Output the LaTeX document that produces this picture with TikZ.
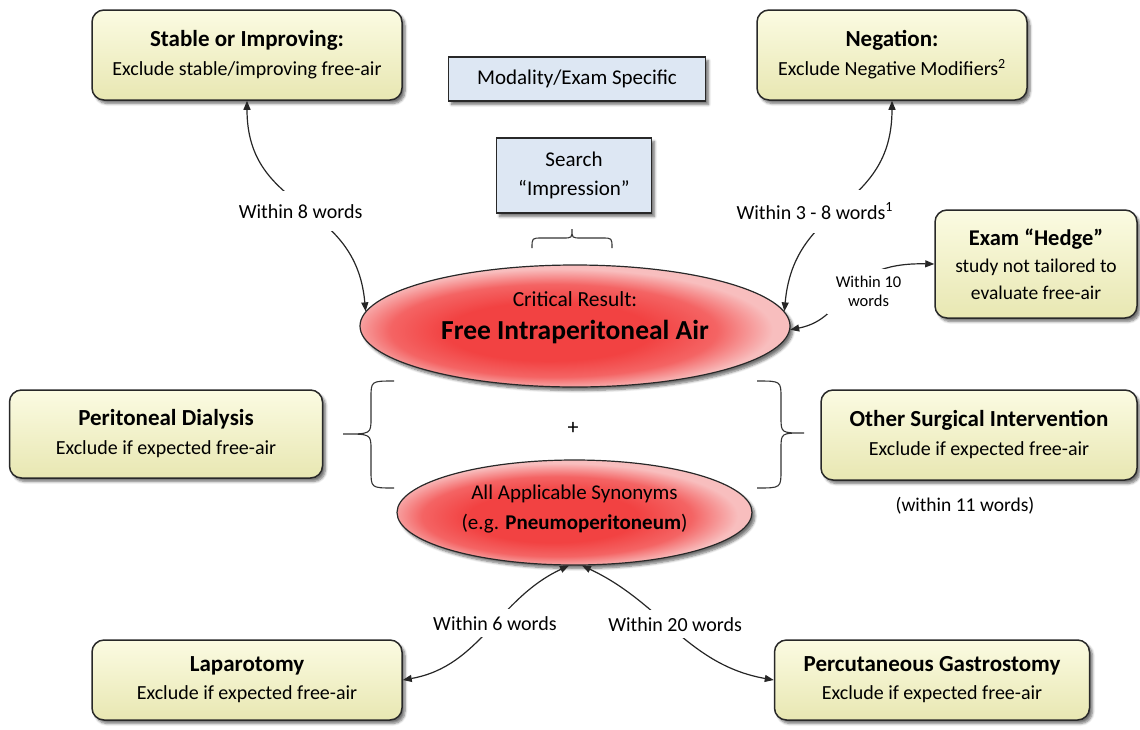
\documentclass[tikz,border=0pt]{standalone}
\usepackage{fontspec}
\setmainfont{Carlito}
\usetikzlibrary{shapes.geometric,shadows,shadows.blur,arrows.meta}

\definecolor{boxtop}{RGB}{251,251,226}
\definecolor{boxbot}{RGB}{232,231,178}
\definecolor{edge}{RGB}{40,40,40}
\definecolor{bluefill}{RGB}{221,231,243}
\definecolor{redin}{RGB}{242,66,66}
\definecolor{redmid}{RGB}{244,100,100}
\definecolor{redout}{RGB}{248,190,190}

% red glow for the two term ellipses, centred a little low and left
\pgfdeclareradialshading{redglow}{\pgfpoint{-4bp}{-3bp}}{%
  color(0bp)=(redin); color(12bp)=(redin); color(19bp)=(redmid);
  color(25bp)=(redout); color(50bp)=(redout)}

\newcommand{\ttl}{\fontsize{23}{29}\selectfont\bfseries}
\newcommand{\subt}{\fontsize{20}{29}\selectfont}

\tikzset{
  softshadow/.style={blur shadow={shadow xshift=3pt,shadow yshift=-3.5pt,shadow blur steps=6,shadow blur radius=2.5pt,shadow opacity=55}},
  rulebox/.style={draw=edge, line width=1.5pt, rounded corners=12pt,
    top color=boxtop, bottom color=boxbot, softshadow,
    align=center, inner sep=0pt, font=\subt},
  tagbox/.style={draw=edge, line width=1.1pt, fill=bluefill, softshadow,
    align=center, inner sep=0pt, font=\fontsize{21}{29}\selectfont},
  term/.style={ellipse, draw=edge, line width=1.2pt, inner sep=0pt,
    shading=redglow, softshadow},
  conn/.style={line width=1.2pt, draw=black!85,
    {Triangle[length=9pt,width=7pt]}-{Triangle[length=9pt,width=7pt]}},
  lbl/.style={fill=white, inner xsep=2pt, inner ysep=7pt, font=\fontsize{20}{24}\selectfont},
  tall lbl/.style={lbl, inner ysep=13pt},
  smalllbl/.style={fill=white, inner xsep=9pt, inner ysep=7pt, align=center, font=\fontsize{16.5}{19}\selectfont},
  bracket/.style={line width=1.1pt, draw=black!80}
}

\begin{document}
\begin{tikzpicture}[x=1pt,y=1pt]
\useasboundingbox (0,0) rectangle (1140,-729);

% rule boxes
\node[rulebox, minimum width=310, minimum height=90] (stable) at (247,-55)
  {{\ttl Stable or Improving:}\\Exclude stable/improving free-air};
\node[rulebox, minimum width=270, minimum height=90] (neg) at (892,-55)
  {{\ttl Negation:}\\Exclude Negative Modifiers\textsuperscript{2}};
\node[rulebox, minimum width=202, minimum height=108,
  font=\fontsize{19.5}{27}\selectfont] (hedge) at (1036,-264)
  {{\fontsize{22.5}{27}\selectfont\bfseries Exam “Hedge”}\\study not tailored to\\evaluate free-air};
\node[rulebox, minimum width=313, minimum height=88] (perit) at (166,-434)
  {{\ttl Peritoneal Dialysis}\\Exclude if expected free-air};
\node[rulebox, minimum width=316, minimum height=90] (other) at (979,-435)
  {{\ttl Other Surgical Intervention}\\Exclude if expected free-air};
\node[rulebox, minimum width=310, minimum height=80,
  font=\fontsize{20}{28}\selectfont] (lap) at (247,-680)
  {{\fontsize{23}{28}\selectfont\bfseries Laparotomy}\\Exclude if expected free-air};
\node[rulebox, minimum width=315, minimum height=80,
  font=\fontsize{20}{28}\selectfont] (perc) at (932,-680)
  {{\fontsize{23}{28}\selectfont\bfseries Percutaneous Gastrostomy}\\Exclude if expected free-air};

% exam specific tags
\node[tagbox, minimum width=257, minimum height=44] (modal) at (577,-79) {Modality/Exam Specific};
\node[tagbox, minimum width=155, minimum height=75] (search) at (574,-175.5) {Search\\“Impression”};

% central terms
\node[term, minimum width=430, minimum height=122] (crit) at (575,-326) {};
\node[align=center, font=\fontsize{21.5}{33}\selectfont] (crittext) at (575,-318)
  {Critical Result:\\{\fontsize{27.5}{33}\selectfont\bfseries Free Intraperitoneal Air}};
\node[term, minimum width=355, minimum height=105] (syn) at (574.5,-512.5) {};
\node[align=center, font=\fontsize{21}{30}\selectfont] (syntext) at (574.5,-509)
  {All Applicable Synonyms\\(e.g. {\bfseries Pneumoperitoneum})};

% brackets
\draw[bracket] (532,-248) .. controls (532,-238) .. (542,-238) -- (563,-238)
  .. controls (572,-238) .. (572,-229) .. controls (572,-238) .. (581,-238)
  -- (602,-238) .. controls (612,-238) .. (612,-248);
\draw[bracket] (394,-381) .. controls (371,-381) .. (371,-398) -- (371,-418)
  .. controls (371,-434) .. (343,-434) .. controls (371,-434) .. (371,-450)
  -- (371,-470) .. controls (371,-488) .. (394,-488);
\draw[bracket] (757,-381) .. controls (781,-381) .. (781,-398) -- (781,-417)
  .. controls (781,-433) .. (804,-433) .. controls (781,-433) .. (781,-449)
  -- (781,-470) .. controls (781,-488) .. (757,-488);
\node[font=\fontsize{22}{24}\selectfont] (plus) at (573,-428) {+};
\node[font=\fontsize{19.5}{22}\selectfont] (eleven) at (965,-506) {(within 11 words)};

% connectors
\draw[conn] (stable.south) to[out=-90,in=95,looseness=1.2]
  node[tall lbl, xshift=-2pt, yshift=-5pt]{Within 8 words} (crit.176);
\draw[conn] (neg.south) to[out=-90,in=85,looseness=1.2]
  node[tall lbl, xshift=-27pt, yshift=-5pt]{Within 3 - 8 words\textsuperscript{1}} (crit.4);
\draw[conn] (crit.-1) .. controls (850,-318) and (838,-262) ..
  node[smalllbl, pos=0.5, xshift=20pt]{Within 10\\words} (hedge.west);
\draw[conn] (lap.east) to[out=10,in=-155]
  node[lbl, pos=0.55]{Within 6 words} (syn.-96);
\draw[conn] (perc.west) to[out=170,in=-25]
  node[lbl, pos=0.55, xshift=8pt]{Within 20 words} (syn.-82);
\end{tikzpicture}
\end{document}
